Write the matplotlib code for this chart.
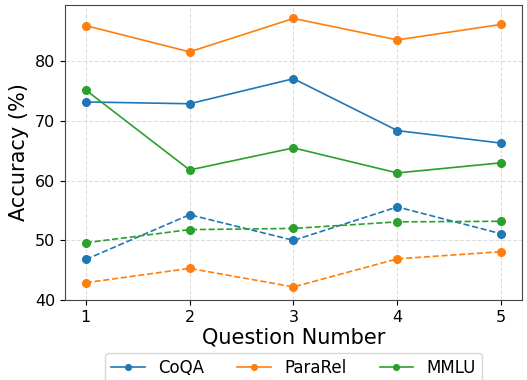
import numpy as np
import matplotlib
matplotlib.use("Agg")
import matplotlib.pyplot as plt

questions = [1, 2, 3, 4, 5]

# solid lines
coqa_solid = [73.2, 72.9, 77.1, 68.4, 66.3]
pararel_solid = [86.0, 81.6, 87.2, 83.6, 86.2]
mmlu_solid = [75.2, 61.8, 65.5, 61.3, 63.0]

# dashed lines
coqa_dashed = [46.8, 54.3, 50.0, 55.6, 51.1]
pararel_dashed = [42.9, 45.3, 42.2, 46.9, 48.1]
mmlu_dashed = [49.6, 51.8, 52.0, 53.1, 53.2]

names = ["CoQA", "ParaRel", "MMLU"]
COLORS = {"CoQA": "tab:blue", "ParaRel": "tab:orange", "MMLU": "tab:green"}

fig = plt.figure(figsize=(5.27, 3.8), dpi=100)
ax = fig.add_axes([0.1233, 0.2105, 0.8672, 0.7763])

solid = [coqa_solid, pararel_solid, mmlu_solid]
dashed = [coqa_dashed, pararel_dashed, mmlu_dashed]
for name, s, d in zip(names, solid, dashed):
    ax.plot(questions, s, marker="o", markersize=5.5, linewidth=1.2,
            color=COLORS[name], label=name)
    ax.plot(questions, d, marker="o", markersize=5.5, linewidth=1.2,
            linestyle="--", color=COLORS[name])

ax.set_ylim(bottom=40)
ax.set_xticks(questions)
ax.set_yticks([40, 50, 60, 70, 80])
ax.tick_params(labelsize=11.5)
ax.set_xlabel("Question Number", fontsize=15, labelpad=2)
ax.set_ylabel("Accuracy (%)", fontsize=15)
ax.grid(True, linestyle="--", color="#dddddd", linewidth=0.8)
for sp in ax.spines.values():
    sp.set_color("#444444")

ax.legend(loc="upper center", bbox_to_anchor=(0.5, -0.15), ncol=3,
          fontsize=12, frameon=True, columnspacing=2.0, markerscale=0.75)

fig.savefig("out.png", dpi=100)
